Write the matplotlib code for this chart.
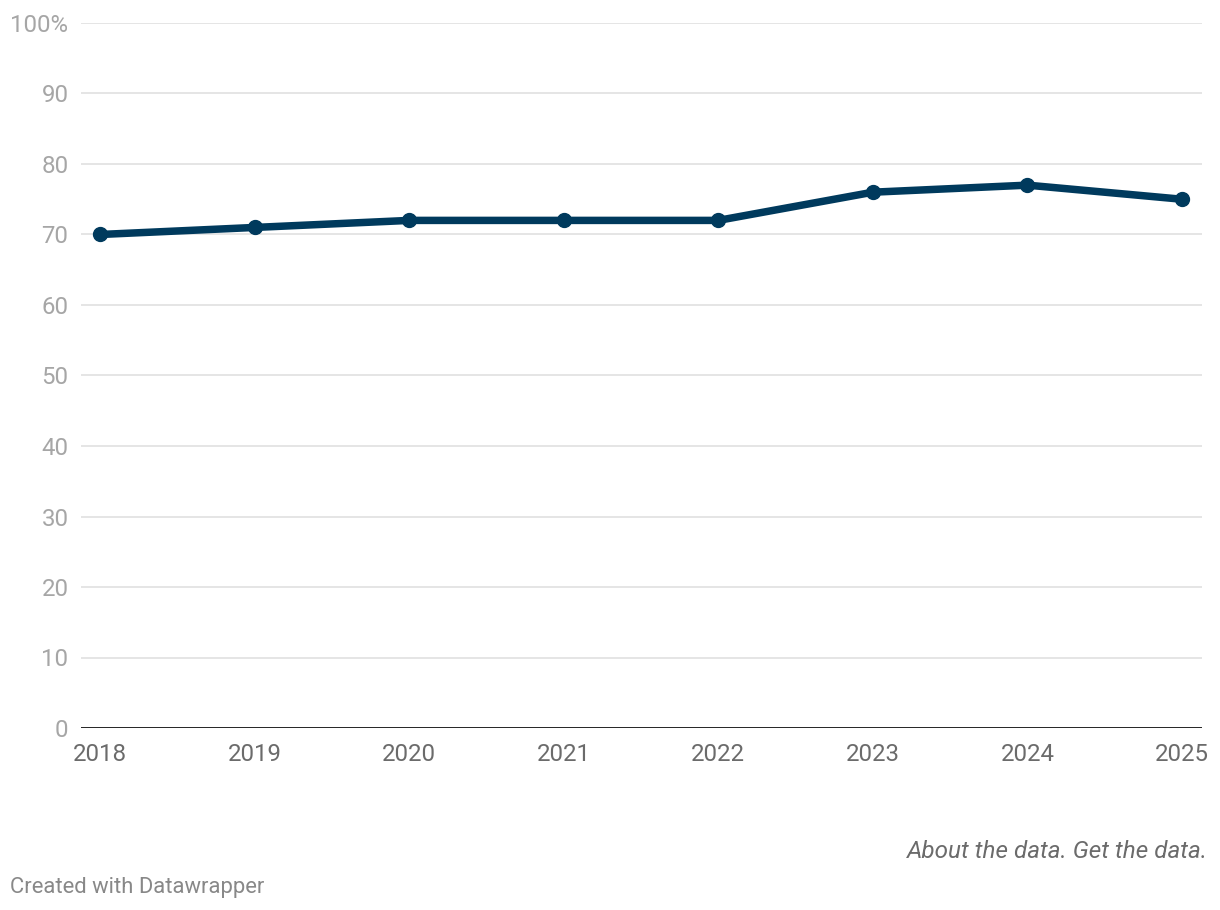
import matplotlib
matplotlib.use("Agg")
import matplotlib.pyplot as plt

years = [2018, 2019, 2020, 2021, 2022, 2023, 2024, 2025]
values = [70, 71, 72, 72, 72, 76, 77, 75]
y_ticks = [0, 10, 20, 30, 40, 50, 60, 70, 80, 90, 100]
y_labels = ["0", "10", "20", "30", "40", "50", "60", "70", "80", "90", "100%"]

plt.rcParams['font.family'] = ['Roboto', 'DejaVu Sans']

fig = plt.figure(figsize=(12.2, 9.1), dpi=100)
ax = fig.add_axes([81/1220, 182/910, 1121/1220, 705/910])

line_color = "#003a5d"
ax.plot(years, values, color=line_color, lw=5.4, marker="o", markersize=10,
        solid_capstyle="round", solid_joinstyle="round", zorder=5, clip_on=False)

ax.set_xlim(2018 - 19/154.57, 2025 + 20/154.57)
ax.set_ylim(0, 100)

for t in y_ticks[1:]:
    ax.axhline(t, color="#e3e3e3", lw=1.3, zorder=1)
ax.axhline(0, color="#111111", lw=2, zorder=3)

for s in ax.spines.values():
    s.set_visible(False)

ax.set_yticks(y_ticks)
ax.set_yticklabels(y_labels)
ax.set_xticks(years)
ax.set_xticklabels([str(y) for y in years])
ax.tick_params(axis="y", length=0, pad=9, labelsize=17.3, labelcolor="#a6a6a6")
ax.tick_params(axis="x", length=0, pad=10.5, labelsize=17.3, labelcolor="#6b6b6b")
for lbl in ax.get_xticklabels():
    lbl.set_horizontalalignment("center")

fig.text(1208/1220, 1 - 852/910, "About the data. Get the data.", ha="right", va="center",
         fontsize=17.5, style="italic", color="#6b6b6b")
fig.text(10/1220, 1 - 888/910, "Created with Datawrapper", ha="left", va="center",
         fontsize=15.8, color="#888888")

fig.savefig("out.png", dpi=100, facecolor="white")
